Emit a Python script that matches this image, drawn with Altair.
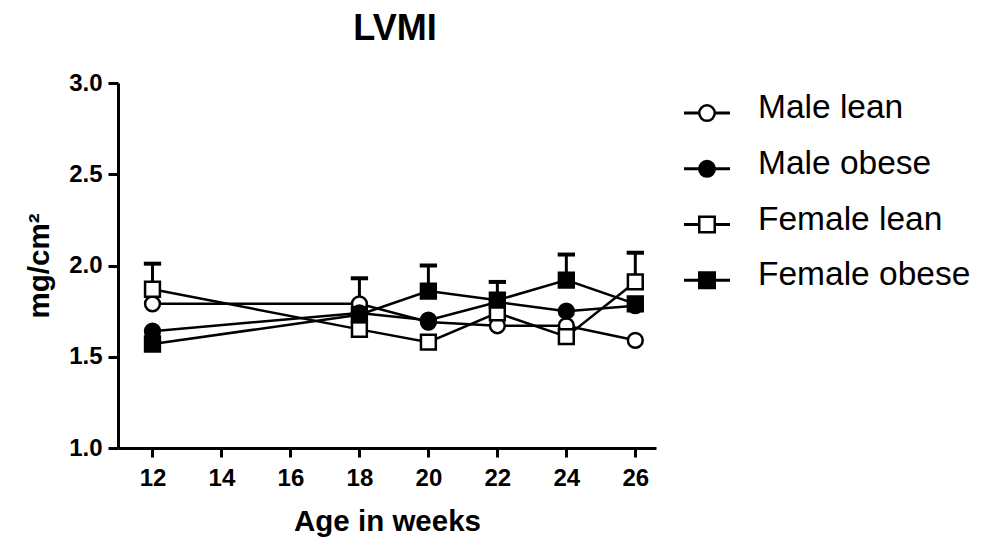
import altair as alt
import pandas as pd

# ---- data ----
weeks = [12, 18, 20, 22, 24, 26]
series_names = ["Male lean", "Male obese", "Female lean", "Female obese"]
male_lean = [1.79, 1.79, 1.69, 1.67, 1.67, 1.59]
male_obese = [1.64, 1.74, 1.70, 1.80, 1.75, 1.78]
female_lean = [1.87, 1.65, 1.58, 1.74, 1.61, 1.91]
female_obese = [1.57, 1.73, 1.86, 1.81, 1.92, 1.79]
# upper ends of the visible error bars (None = hidden behind symbols)
male_lean_err = [None, 1.93, None, None, None, None]
male_obese_err = [None, None, None, None, None, None]
female_lean_err = [2.01, None, None, None, None, 2.07]
female_obese_err = [None, None, 2.00, 1.91, 2.06, None]
y_ticks = [1.0, 1.5, 2.0, 2.5, 3.0]
x_ticks = [12, 14, 16, 18, 20, 22, 24, 26]
shapes = ["circle", "circle", "square", "square"]
fills = ["white", "black", "white", "black"]

FONT = "Liberation Sans"

rows = []
for name, vals, errs in zip(
    series_names,
    [male_lean, male_obese, female_lean, female_obese],
    [male_lean_err, male_obese_err, female_lean_err, female_obese_err],
):
    for w, v, e in zip(weeks, vals, errs):
        rows.append({"series": name, "week": w, "value": v, "err": e})
df = pd.DataFrame(rows)
err_df = df.dropna(subset=["err"])
leg_df = pd.DataFrame({"series": series_names, "idx": list(range(len(series_names)))})

x_scale = alt.Scale(domain=[11, 26.6], nice=False, zero=False)
x_enc = alt.X(
    "week:Q",
    scale=x_scale,
    axis=alt.Axis(values=x_ticks, title="Age in weeks", format="d"),
)
y_scale = alt.Scale(domain=[1, 3], nice=False, zero=False)
y_enc = alt.Y(
    "value:Q",
    scale=y_scale,
    axis=alt.Axis(values=y_ticks, format=".1f", title="mg/cm²"),
)
shape_enc = alt.Shape("series:N", scale=alt.Scale(domain=series_names, range=shapes), legend=None)
fill_enc = alt.Fill("series:N", scale=alt.Scale(domain=series_names, range=fills), legend=None)

base = alt.Chart(df)

lines = base.mark_line(color="black", strokeWidth=2.5).encode(
    x=x_enc, y=y_enc, detail="series:N"
)
stems = alt.Chart(err_df).mark_rule(color="black", strokeWidth=3).encode(
    x=alt.X("week:Q", scale=x_scale),
    y=alt.Y("value:Q", scale=y_scale),
    y2="err:Q",
)
caps = alt.Chart(err_df).mark_point(
    shape="M-1,0L1,0", size=300, strokeWidth=4, color="black", filled=False, opacity=1
).encode(
    x=alt.X("week:Q", scale=x_scale),
    y=alt.Y("err:Q", scale=y_scale),
)
points = base.mark_point(
    size=220, stroke="black", strokeWidth=2.5, opacity=1, filled=False
).encode(x=x_enc, y=y_enc, shape=shape_enc, fill=fill_enc)

main = alt.layer(stems, caps, lines, points)

# ---- legend drawn as marks ----
leg_y = alt.Y("idx:Q", scale=alt.Scale(domain=[-0.54, 6.01], reverse=True, nice=False, zero=False), axis=None)
leg_base = alt.Chart(leg_df)
leg_rule = leg_base.mark_rule(color="black", strokeWidth=3).encode(
    x=alt.value(566), x2=alt.value(612), y=leg_y
)
leg_pts = leg_base.mark_point(
    size=240, stroke="black", strokeWidth=2.5, opacity=1, filled=False
).encode(x=alt.value(589), y=leg_y, shape=shape_enc, fill=fill_enc)
leg_txt = leg_base.mark_text(
    align="left", baseline="middle", font=FONT, fontSize=33.5, dy=-5, color="black"
).encode(x=alt.value(640), y=leg_y, text="series:N")
legend = alt.layer(leg_rule, leg_pts, leg_txt)

chart = (
    alt.layer(main, legend)
    .resolve_scale(y="independent")
    .properties(
        width=538,
        height=365,
        title=alt.Title(
            "LVMI", font=FONT, fontSize=36, fontWeight="bold", color="black",
            anchor="middle", frame="group", dx=8, offset=23,
        ),
        padding={"left": 16, "top": 3, "right": 2, "bottom": 2},
    )
    .configure_view(stroke=None)
    .configure_axis(
        labelFont=FONT, labelFontSize=24, labelFontWeight="bold", labelColor="black",
        titleFont=FONT, titleFontSize=29.5, titleFontWeight="bold", titleColor="black",
        domainColor="black", domainWidth=3, tickColor="black", tickWidth=3,
        grid=False,
    )
    .configure_axisX(tickSize=9, labelPadding=9, titlePadding=17)
    .configure_axisY(tickSize=10, labelPadding=6, titlePadding=14)
)

chart.save("out.html", embed_options={"renderer": "svg", "actions": False})
